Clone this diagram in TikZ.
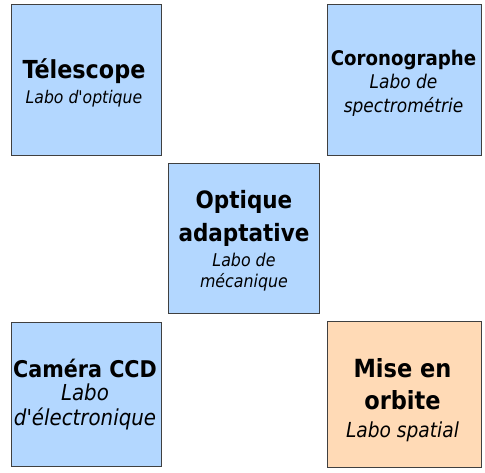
\documentclass[tikz,border=0pt]{standalone}
\usepackage{fontspec}
\setmainfont{DejaVu Sans Condensed}
\usetikzlibrary{shadows}
\definecolor{bleuclair}{RGB}{179,215,255}
\definecolor{peche}{RGB}{255,218,182}
\begin{document}
\begin{tikzpicture}[x=1pt,y=-1pt,inner sep=0pt,
	boite/.style={rectangle,draw=black!75,line width=0.8pt,fill=bleuclair,
		drop shadow={shadow xshift=1.2pt,shadow yshift=-1.2pt,fill=black!45,opacity=1}},
	texte/.style={align=center,font={\fontsize{18}{20}\selectfont\lineskiplimit=-50pt}}]
	\useasboundingbox (0,0) rectangle (485,473);
	% les boites
	\node [boite,minimum width=150pt,minimum height=151pt] (tel) at (86,79.5) {};
	\node [boite,minimum width=154pt,minimum height=151pt] (cor) at (404,79.5) {};
	\node [boite,minimum width=151pt,minimum height=150pt] (opt) at (243.5,238) {};
	\node [boite,minimum width=150pt,minimum height=144pt] (cam) at (86,394) {};
	\node [boite,fill=peche,minimum width=154pt,minimum height=146pt] (orb) at (404,394) {};
	% les textes
	\node [texte] (ttel) at (84,83.2) {{\fontsize{24.8}{20}\selectfont\bfseries Télescope}\\[5pt]
		{\fontsize{17.4}{20}\selectfont\itshape Labo d\textquotesingle optique}};
	\node [texte] (tcor) at (403.5,83) {{\fontsize{20.2}{20}\selectfont\bfseries Coronographe}\\[3pt]
		{\fontsize{18.9}{20}\selectfont\itshape Labo de}\\[4pt]
		{\fontsize{18.9}{20}\selectfont\itshape spectrométrie}};
	\node [texte] (topt) at (244,241) {{\fontsize{23.9}{20}\selectfont\bfseries Optique}\\[13pt]
		{\fontsize{23.9}{20}\selectfont\bfseries adaptative}\\[5pt]
		{\fontsize{17.6}{20}\selectfont\itshape Labo de}\\[1pt]
		{\fontsize{17.6}{20}\selectfont\itshape mécanique}};
	\node [texte] (tcam) at (85,394.9) {{\fontsize{23}{20}\selectfont\bfseries Caméra CCD}\\[3pt]
		{\fontsize{22}{20}\selectfont\itshape Labo}\\[5pt]
		{\fontsize{22}{20}\selectfont\itshape d\textquotesingle électronique}};
	\node [texte] (torb) at (402.5,400) {{\fontsize{25}{20}\selectfont\bfseries Mise en}\\[12pt]
		{\fontsize{25}{20}\selectfont\bfseries orbite}\\[8pt]
		{\fontsize{20.7}{20}\selectfont\itshape Labo spatial}};
\end{tikzpicture}
\end{document}
